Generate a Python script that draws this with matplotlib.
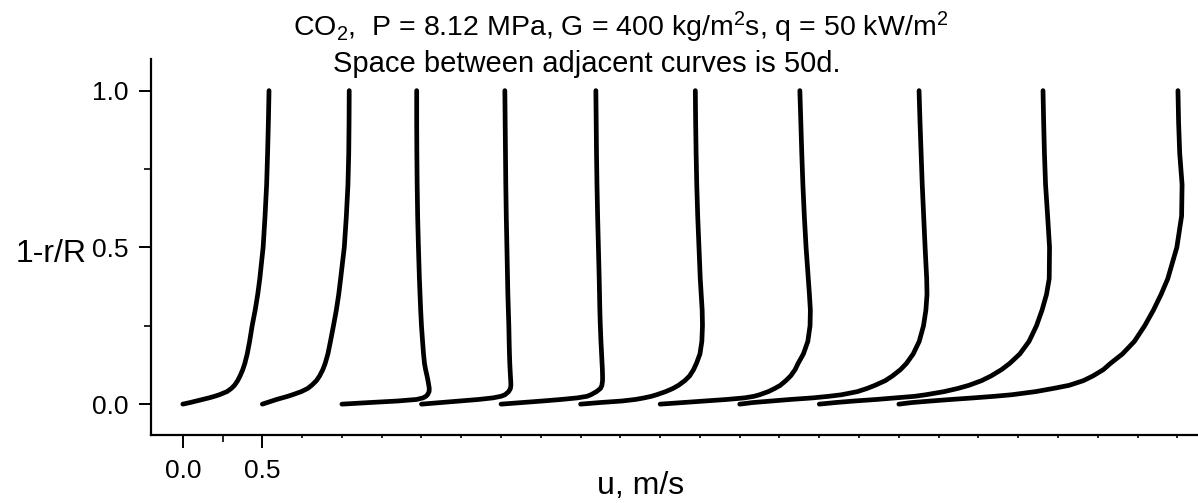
import matplotlib
matplotlib.use("Agg")
import matplotlib.pyplot as plt

plt.rcParams['font.family'] = ['Liberation Sans', 'DejaVu Sans']
plt.rcParams['mathtext.fontset'] = 'custom'
plt.rcParams['mathtext.rm'] = 'Liberation Sans'
plt.rcParams['mathtext.it'] = 'Liberation Sans:italic'

# 1-r/R positions shared by all profiles
y_pos = [0, 0.005, 0.01, 0.015, 0.02, 0.025, 0.03, 0.04, 0.05, 0.06, 0.075,
         0.09, 0.11, 0.13, 0.16, 0.2, 0.25, 0.3, 0.35, 0.4, 0.5, 0.6, 0.7,
         0.8, 0.9, 1.0]

# velocity u (m/s) of each profile
u1 = [0, 0.045, 0.085, 0.125, 0.165, 0.2, 0.23, 0.278, 0.305, 0.325, 0.345,
      0.36, 0.377, 0.39, 0.405, 0.42, 0.436, 0.455, 0.471, 0.484, 0.505,
      0.517, 0.527, 0.533, 0.538, 0.542]
u2 = [0, 0.03, 0.06, 0.09, 0.125, 0.16, 0.19, 0.245, 0.285, 0.31, 0.34,
      0.36, 0.38, 0.395, 0.412, 0.428, 0.447, 0.465, 0.48, 0.492, 0.515,
      0.528, 0.538, 0.543, 0.545, 0.546]
u3 = [0, 0.17, 0.35, 0.47, 0.51, 0.528, 0.538, 0.548, 0.549, 0.546, 0.541,
      0.535, 0.526, 0.519, 0.513, 0.507, 0.5, 0.495, 0.491, 0.487, 0.481,
      0.476, 0.473, 0.471, 0.47, 0.47]
u4 = [0, 0.12, 0.24, 0.36, 0.45, 0.5, 0.525, 0.548, 0.559, 0.562, 0.561,
      0.559, 0.557, 0.555, 0.553, 0.551, 0.549, 0.546, 0.543, 0.541, 0.537,
      0.533, 0.53, 0.528, 0.526, 0.524]
u5 = [0, 0.13, 0.26, 0.38, 0.48, 0.54, 0.565, 0.6, 0.625, 0.634, 0.638,
      0.638, 0.637, 0.635, 0.632, 0.628, 0.624, 0.621, 0.619, 0.617, 0.612,
      0.607, 0.603, 0.6, 0.598, 0.596]
u6 = [0, 0.12, 0.26, 0.345, 0.4, 0.445, 0.478, 0.535, 0.58, 0.615, 0.655,
      0.685, 0.71, 0.728, 0.75, 0.762, 0.766, 0.764, 0.758, 0.752, 0.744,
      0.736, 0.73, 0.726, 0.723, 0.721]
u7 = [0, 0.14, 0.28, 0.42, 0.53, 0.59, 0.625, 0.68, 0.72, 0.755, 0.79,
      0.82, 0.848, 0.867, 0.9, 0.928, 0.942, 0.944, 0.938, 0.931, 0.917,
      0.906, 0.897, 0.89, 0.884, 0.878]
u8 = [0, 0.08, 0.2, 0.32, 0.46, 0.56, 0.64, 0.74, 0.8, 0.85, 0.915,
      0.96, 1.01, 1.048, 1.09, 1.128, 1.155, 1.17, 1.177, 1.175, 1.165,
      1.156, 1.147, 1.14, 1.133, 1.127]
u9 = [0, 0.1, 0.22, 0.36, 0.48, 0.6, 0.67, 0.785, 0.87, 0.94, 1.02,
      1.08, 1.145, 1.197, 1.26, 1.318, 1.365, 1.4, 1.428, 1.445, 1.447,
      1.435, 1.422, 1.415, 1.41, 1.406]
u10 = [0, 0.08, 0.2, 0.33, 0.47, 0.6, 0.71, 0.86, 0.97, 1.07, 1.16,
       1.22, 1.285, 1.33, 1.405, 1.48, 1.545, 1.6, 1.648, 1.69, 1.747,
       1.777, 1.78, 1.765, 1.758, 1.754]

profiles = [u1, u2, u3, u4, u5, u6, u7, u8, u9, u10]
# each profile is shifted right by 0.5 m/s (50d apart along the tube)
shifts = [0, 0.5, 1.0, 1.5, 2.0, 2.5, 3.0, 3.5, 4.0, 4.5]

fig = plt.figure(figsize=(11.98, 5.03), dpi=100)
ax = fig.add_axes([0.126, 0.1342, 0.874, 0.748])

for u, s in zip(profiles, shifts):
    ax.plot([s + v for v in u], y_pos, color='black', lw=3.4,
            solid_capstyle='round', solid_joinstyle='round')

ax.set_xlim(-0.2, 6.38)
ax.set_ylim(-0.1, 1.1)

ax.spines['top'].set_visible(False)
ax.spines['right'].set_visible(False)
ax.spines['left'].set_linewidth(1.6)
ax.spines['bottom'].set_linewidth(1.6)

ax.set_xticks([0, 0.5])
ax.set_xticklabels(['0.0', '0.5'])
ax.set_xticks([0.25 * k for k in range(3, 26)], minor=True)
ax.set_yticks([0, 0.5, 1.0])
ax.set_yticklabels(['0.0', '0.5', '1.0'])
ax.set_yticks([0.25, 0.75], minor=True)

ax.tick_params(axis='x', which='major', direction='out', length=9, width=1.4,
               labelsize=19, pad=8)
ax.tick_params(axis='x', which='minor', direction='out', length=2, width=1.2)
ax.tick_params(axis='y', which='major', direction='out', length=9, width=1.4,
               labelsize=19, pad=7)
ax.tick_params(axis='y', which='minor', direction='out', length=5, width=1.2)

# the tick at 0.25 is a bit longer than the rest of the minor ones
sec = ax.secondary_xaxis('bottom')
sec.set_xticks([0.25])
sec.set_xticklabels([''])
sec.tick_params(direction='out', length=5, width=1.2)
sec.spines['bottom'].set_visible(False)

fig.text(621 / 1198, 1 - 36 / 503,
         r'CO$_2$,  P = 8.12 MPa, G = 400 kg/m$^2$s, q = 50 kW/m$^2$',
         ha='center', va='baseline', fontsize=20.5)
fig.text(587 / 1198, 1 - 72 / 503, 'Space between adjacent curves is 50d.',
         ha='center', va='baseline', fontsize=21)
fig.text(16 / 1198, 1 - 262 / 503, '1-r/R', ha='left', va='baseline', fontsize=23)
fig.text(597 / 1198, 1 - 494 / 503, 'u, m/s', ha='left', va='baseline', fontsize=23)

fig.savefig('out.png', dpi=100)
